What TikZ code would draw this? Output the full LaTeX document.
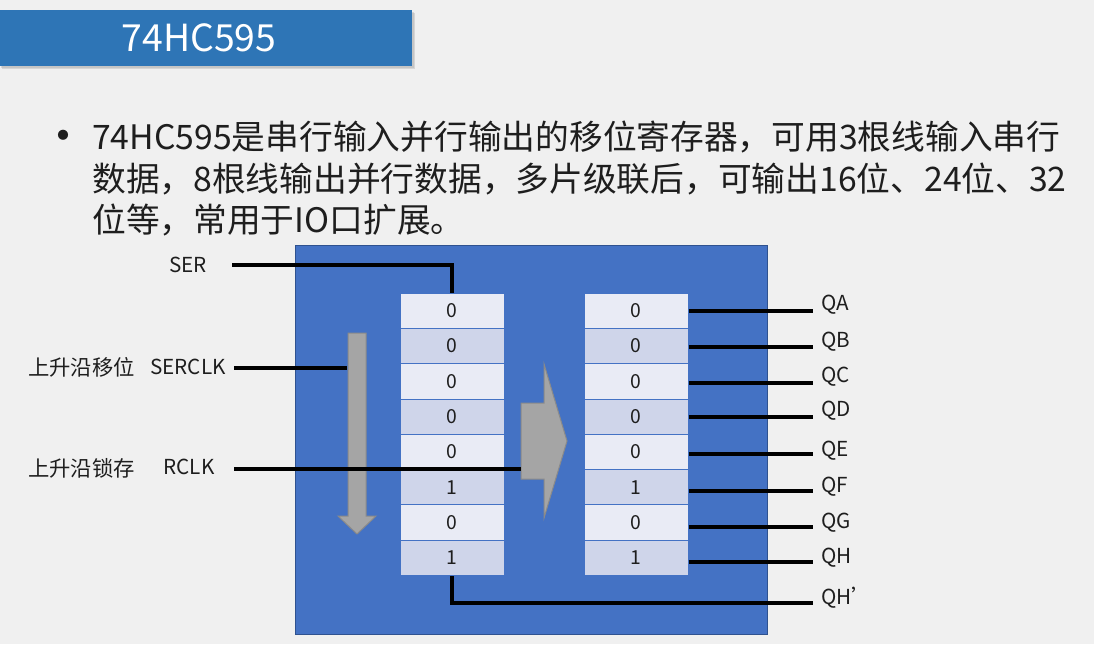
\documentclass[tikz,border=0pt]{standalone}
\usepackage{fontspec}
\setmainfont{Noto Sans CJK SC}
\definecolor{bgc}{HTML}{F0F0F0}
\definecolor{titleblue}{HTML}{2E75B6}
\definecolor{boxblue}{HTML}{4472C4}
\definecolor{boxedge}{HTML}{2F528F}
\definecolor{cellA}{HTML}{E9EBF5}
\definecolor{cellB}{HTML}{CFD5EA}
\definecolor{arrowfill}{HTML}{A5A5A5}
\definecolor{arrowedge}{HTML}{8A8A8A}
\definecolor{txt}{HTML}{1E1E1E}
\begin{document}
\begin{tikzpicture}[x=0.75pt,y=-0.75pt,
  conn/.style={line width=3pt,black},
  cell/.style={draw=boxblue,line width=0.75pt,minimum width=78pt,minimum height=26.5pt,inner sep=0pt,text=txt,font=\fontsize{14.5}{16}\selectfont},
  lab/.style={inner sep=0pt,text=txt,font=\fontsize{15.5}{18}\selectfont},
  qlab/.style={lab,anchor=west},
  body/.style={inner sep=0pt,anchor=west,text=txt,font=\fontsize{25.3}{28}\selectfont},
  blockarrow/.style={fill=arrowfill,draw=arrowedge,line width=0.75pt}]
\fill[bgc] (0,0) rectangle (1094,644);
\useasboundingbox (0,0) rectangle (1094,644);
% title bar
\fill[black!35,opacity=0.35] (2,13) rectangle (415,69);
\fill[black!35,opacity=0.35] (1,12) rectangle (414,68);
\fill[titleblue] (0,10) rectangle (412,66);
\node[inner sep=0pt,text=white,font=\fontsize{28}{30}\selectfont] (title) at (199,38) {74HC595};
% bullet text
\node[inner sep=0pt,text=txt,font=\fontsize{36}{38}\selectfont] (bullet) at (63,142) {•};
\node[body] (line1) at (92,137) {74HC595是串行输入并行输出的移位寄存器，可用3根线输入串行};
\node[body] (line2) at (92,179) {数据，8根线输出并行数据，多片级联后，可输出16位、24位、32};
\node[body] (line3) at (92,220) {位等，常用于IO口扩展。};
% chip body
\node[draw=boxedge,fill=boxblue,line width=0.75pt,minimum width=354pt,minimum height=291.75pt,inner sep=0pt] (chip) at (531,439.5) {};
% registers
\foreach \v [count=\i] in {0,0,0,0,0,1,0,1} {
  \pgfmathsetmacro\yy{293+35.33*(\i-0.5)}
  \ifodd\i\def\cc{cellA}\else\def\cc{cellB}\fi
  \node[cell,fill=\cc] (L\i) at (452,\yy) {\v};
  \node[cell,fill=\cc] (R\i) at (636,\yy) {\v};
}
% arrows
\filldraw[blockarrow] (348,333) -- (366,333) -- (366,516) -- (376,516) -- (357,534) -- (338,516) -- (348,516) -- cycle;
\filldraw[blockarrow] (521,403) -- (544,403) -- (544,364) -- (567,441) -- (544,518) -- (544,479) -- (521,479) -- cycle;
\coordinate (darrowL) at (347,368);
\coordinate (barrowL) at (521,469);
% left labels
\node[lab] (ser) at (188,265) {SER};
\node[lab] (serclk) at (188,367) {SERCLK};
\node[lab] (rclk) at (189,467) {RCLK};
\node[lab,anchor=west,font=\fontsize{16}{18}\selectfont] (shiftlab) at (28,367) {上升沿移位};
\node[lab,anchor=west,font=\fontsize{16}{18}\selectfont] (latchlab) at (28,468) {上升沿锁存};
\coordinate (serS) at (232,265);
\coordinate (sclkS) at (234,368);
\coordinate (rclkS) at (234,469);
\draw[conn] (serS) -| (L1.north);
\draw[conn] (sclkS) -- (darrowL);
\draw[conn] (rclkS) -- (barrowL);
% right outputs
\foreach \n/\ly/\qy [count=\i] in {QA/311/305,QB/346.7/342,QC/382.7/377,QD/416.7/411,QE/453.7/451,QF/490.7/487,QG/526.7/523,QH/561.7/558} {
  \coordinate (e\n) at (813,\ly);
  \node[qlab] (l\n) at (821,\qy) {\n};
  \draw[conn] (R\i.east |- e\n) -- (e\n);
}
\coordinate (eQHp) at (813,603);
\node[qlab] (lQHp) at (821,598) {QH’};
\draw[conn] (L8.south) |- (eQHp);
\end{tikzpicture}
\end{document}
